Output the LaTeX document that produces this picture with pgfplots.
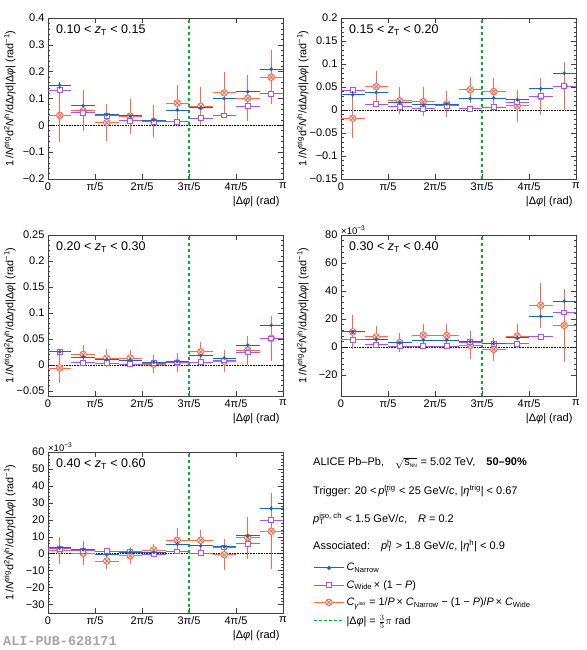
\documentclass[border=0pt]{standalone}
\usepackage{fontspec}
\setmainfont{Liberation Sans}
\setmonofont{Liberation Mono}
\usepackage{amsmath}
\usepackage{pgfplots}
\usepackage{pgfplotstable}
\pgfplotsset{compat=1.18}

\definecolor{cN}{RGB}{25,100,200}
\definecolor{cW}{RGB}{165,85,245}
\definecolor{cG}{RGB}{255,105,75}
\definecolor{cL}{RGB}{0,180,40}

\newcommand{\supsub}[2]{\setbox0\hbox{\textsuperscript{#1}}\setbox2\hbox{\textsubscript{#2}}\ifdim\wd0>\wd2 \rlap{\box2}\box0\else\rlap{\box0}\box2\fi\kern0.5pt}

\pgfplotstableread{
x ex yn en yw ew yg eg
0.15708 0.15708 0.149 0.013 0.131 0.004 0.037 0.099
0.47124 0.15708 0.073 0.005 0.047 0.003 0.054 0.076
0.78540 0.15708 0.039 0.004 0.035 0.003 0.010 0.068
1.09956 0.15708 0.035 0.004 0.017 0.003 0.034 0.065
1.41372 0.15708 0.020 0.004 0.014 0.003 0.015 0.060
1.72788 0.15708 0.057 0.004 0.014 0.003 0.083 0.067
2.04204 0.15708 0.065 0.005 0.027 0.003 0.071 0.070
2.35619 0.15708 0.100 0.005 0.037 0.003 0.121 0.077
2.67035 0.15708 0.125 0.006 0.072 0.004 0.101 0.085
2.98451 0.15708 0.209 0.007 0.117 0.005 0.179 0.100
}\tA
\pgfplotstableread{
x ex yn en yw ew yg eg
0.15708 0.15708 0.033 0.008 0.043 0.003 -0.018 0.043
0.47124 0.15708 0.038 0.003 0.013 0.002 0.051 0.033
0.78540 0.15708 0.017 0.003 0.007 0.002 0.020 0.029
1.09956 0.15708 0.011 0.003 0.003 0.002 0.018 0.031
1.41372 0.15708 0.013 0.003 0.009 0.002 0.013 0.029
1.72788 0.15708 0.025 0.003 0.003 0.002 0.044 0.028
2.04204 0.15708 0.026 0.003 0.0065 0.002 0.040 0.030
2.35619 0.15708 0.022 0.003 0.017 0.002 0.009 0.035
2.67035 0.15708 0.046 0.004 0.030 0.003 0.029 0.040
2.98451 0.15708 0.080 0.004 0.052 0.003 0.052 0.052
}\tB
\pgfplotstableread{
x ex yn en yw ew yg eg
0.15708 0.15708 0.025 0.003 0.025 0.002 -0.006 0.029
0.47124 0.15708 0.015 0.002 0.004 0.001 0.020 0.019
0.78540 0.15708 0.010 0.002 0.003 0.001 0.013 0.017
1.09956 0.15708 0.009 0.002 0.0013 0.001 0.013 0.016
1.41372 0.15708 0.005 0.002 0.003 0.001 0.0015 0.017
1.72788 0.15708 0.0065 0.002 0.0045 0.001 0.004 0.018
2.04204 0.15708 0.018 0.002 0.005 0.001 0.025 0.019
2.35619 0.15708 0.013 0.002 0.0085 0.001 0.007 0.021
2.67035 0.15708 0.038 0.003 0.024 0.002 0.028 0.028
2.98451 0.15708 0.076 0.003 0.051 0.002 0.051 0.043
}\tC
\pgfplotstableread{
x ex yn en yw ew yg eg
0.15708 0.15708 10.8 1.5 5.3 0.6 10.8 12
0.47124 0.15708 5.3 1.0 1.7 0.4 7.2 8
0.78540 0.15708 2.9 1.0 0.7 0.4 3.1 7
1.09956 0.15708 5.0 1.0 0.5 0.4 8.4 8.3
1.41372 0.15708 5.0 1.0 0.5 0.4 8.2 8
1.72788 0.15708 3.8 1.0 3.4 0.4 1.2 10
2.04204 0.15708 2.4 1.0 2.4 0.4 -1.7 8
2.35619 0.15708 6.5 1.0 2.4 0.4 7.7 8.5
2.67035 0.15708 22.0 1.2 7.2 0.5 29.8 16
2.98451 0.15708 32.6 1.5 24.7 0.8 15.4 26
}\tD
\pgfplotstableread{
x ex yn en yw ew yg eg
0.15708 0.15708 3.4 1.5 3.0 0.5 2.0 8
0.47124 0.15708 2.4 1.0 1.8 0.4 0.2 7
0.78540 0.15708 -0.6 1.0 1.6 0.4 -4.3 4.6
1.09956 0.15708 1.0 1.0 1.4 0.4 -1.2 5
1.41372 0.15708 0.8 0.8 -0.4 0.4 2.2 3.8
1.72788 0.15708 5.7 1.0 1.4 0.4 7.9 7
2.04204 0.15708 4.7 1.0 0.4 0.4 7.9 6
2.35619 0.15708 4.1 1.0 3.7 0.4 -0.6 9.2
2.67035 0.15708 10.5 1.2 5.9 0.5 9.5 12.4
2.98451 0.15708 26.6 1.5 19.9 0.8 13.2 22.5
}\tE

\pgfplotsset{
  ser/.style={only marks, forget plot,
    error bars/x dir=both, error bars/x explicit,
    error bars/y dir=both, error bars/y explicit,
    error bars/error mark=none,
    error bars/error bar style={line width=0.9pt}},
  panel/.style={scale only axis, width=235pt, height=161pt,
    xmin=0, xmax=3.14159,
    xtick={0,0.62832,1.25664,1.88496,2.51327,3.14159},
    xticklabels={0,π/5,2π/5,3π/5,4π/5,π},
    minor x tick num=3, minor y tick num=4,
    tick align=inside, major tick length=5pt, minor tick length=2.5pt,
    axis line style={black!75, line width=0.5pt},
    every tick/.style={black!75, line width=0.4pt},
    tick label style={font=\fontsize{11}{13}\selectfont},
    /pgf/number format/assume math mode=true,
    clip mode=individual,
    xlabel={|Δ\textit{φ}| (rad)},
    xlabel style={at={(axis description cs:1,0)}, anchor=north east, yshift=-14pt, font=\fontsize{11}{13}\selectfont},
    ylabel={1\,/\textit{N}\textsuperscript{trig}d\textsuperscript{2}\textit{N}\textsuperscript{h}/dΔ\textit{η}d|Δ\textit{φ}| (rad\textsuperscript{−1})},
    ylabel style={at={(axis description cs:-0.163,0.5)}, anchor=center, font=\fontsize{10.8}{12}\selectfont},
  },
  legend image code/.code={\draw[mark repeat=2,mark phase=2,#1] plot coordinates {(0pt,0pt) (15pt,0pt) (30pt,0pt)};},
}

\newcommand{\series}[1]{%
  \addplot[cG, mark=otimes*, mark size=3.3pt, mark options={fill=white,line width=0.9pt}, ser] table[x=x,y=yg,x error=ex,y error=eg]{#1};
  \addplot[cW, mark=square*, mark size=2.4pt, mark options={fill=white,line width=0.8pt}, ser] table[x=x,y=yw,x error=ex,y error=ew]{#1};
  \addplot[cN, mark=*, mark size=1.6pt, ser] table[x=x,y=yn,x error=ex,y error=en]{#1};
}
\newcommand{\guides}[2]{%
  \addplot[black, densely dotted, line width=0.6pt, forget plot] coordinates {(0,0) (3.14159,0)};
  \addplot[cL, dashed, line width=1.2pt, forget plot] coordinates {(1.88496,#1) (1.88496,#2)};
}
\newcommand{\ptag}[1]{\node[anchor=west, font=\fontsize{12.5}{14}\selectfont] at (rel axis cs:0.02,0.925) {#1};}
\newcommand{\mult}{\node[anchor=south west, inner sep=0pt, font=\fontsize{9.5}{10}\selectfont] at (rel axis cs:0,1.0) {×10\textsuperscript{−3}};}

\begin{document}
\begin{tikzpicture}
\useasboundingbox (0pt,0pt) rectangle (586pt,650pt);

% panel 1
\begin{axis}[panel, at={(48pt,471pt)}, anchor=south west,
  ymin=-0.2, ymax=0.4, ytick={-0.2,-0.1,0,0.1,0.2,0.3,0.4},
  yticklabels={−0.2,−0.1,0,0.1,0.2,0.3,0.4}]
\guides{-0.2}{0.4}
\series{\tA}
\ptag{0.10 < \textit{z}\textsubscript{T} < 0.15}
\end{axis}

% panel 2
\begin{axis}[panel, at={(341pt,471pt)}, anchor=south west,
  ymin=-0.15, ymax=0.2, ytick={-0.15,-0.1,-0.05,0,0.05,0.1,0.15,0.2},
  yticklabels={−0.15,−0.1,−0.05,0,0.05,0.1,0.15,0.2}]
\guides{-0.15}{0.2}
\series{\tB}
\ptag{0.15 < \textit{z}\textsubscript{T} < 0.20}
\end{axis}

% panel 3
\begin{axis}[panel, at={(48pt,254pt)}, anchor=south west,
  ymin=-0.06, ymax=0.25, ytick={-0.05,0,0.05,0.1,0.15,0.2,0.25},
  yticklabels={−0.05,0,0.05,0.1,0.15,0.2,0.25}]
\guides{-0.06}{0.25}
\series{\tC}
\ptag{0.20 < \textit{z}\textsubscript{T} < 0.30}
\end{axis}

% panel 4
\begin{axis}[panel, at={(341pt,254pt)}, anchor=south west,
  ymin=-35, ymax=80, ytick={-20,0,20,40,60,80},
  yticklabels={−20,0,20,40,60,80}]
\guides{-35}{80}
\series{\tD}
\ptag{0.30 < \textit{z}\textsubscript{T} < 0.40}
\mult
\end{axis}

% panel 5
\begin{axis}[panel, at={(48pt,37pt)}, anchor=south west,
  ymin=-35, ymax=60, ytick={-30,-20,-10,0,10,20,30,40,50,60},
  yticklabels={−30,−20,−10,0,10,20,30,40,50,60},
  legend style={at={(axis description cs:1.128,0.322)}, anchor=north west, draw=none, fill=none,
    font=\fontsize{10.8}{13}\selectfont, row sep=4pt, inner sep=0pt},
  legend cell align=left]
\guides{-35}{60}
\series{\tE}
\ptag{0.40 < \textit{z}\textsubscript{T} < 0.60}
\mult
\addlegendimage{cN, mark=*, mark size=1.6pt, line width=0.9pt}
\addlegendentry{\textit{C}\textsubscript{Narrow}}
\addlegendimage{cW, mark=square*, mark size=2.4pt, line width=0.9pt, mark options={fill=white,line width=0.8pt}}
\addlegendentry{\textit{C}\textsubscript{Wide}\,× (1 − \textit{P})}
\addlegendimage{cG, mark=otimes*, mark size=3.3pt, line width=0.9pt, mark options={fill=white,line width=0.9pt}}
\addlegendentry{\textit{C}\textsubscript{\textit{γ}\textsuperscript{iso}} = 1/\textit{P}\,× \textit{C}\textsubscript{Narrow} − (1 − \textit{P})/\textit{P}\,× \textit{C}\textsubscript{Wide}}
\addlegendimage{color=cL, line width=1.3pt, dash pattern=on 3pt off 2pt}
\addlegendentry{|Δ\textit{φ}| = $\frac{3}{5}\pi$ rad}
\end{axis}

\begin{scope}[every node/.style={anchor=west, inner sep=0pt, font=\fontsize{11}{13}\selectfont}]
\node at (313pt,187pt) {ALICE Pb–Pb,\quad $\sqrt{\mbox{s}_{\mbox{\tiny NN}}}$ = 5.02 TeV,\quad \textbf{50–90\%}};
\node at (313pt,159pt) {Trigger: 20 <\,\textit{p}\supsub{trig}{T}\ < 25 GeV/\textit{c}, |\textit{η}\textsuperscript{trig}| < 0.67};
\node at (313pt,131pt) {\textit{p}\supsub{iso, ch}{T}\ < 1.5 GeV/\textit{c},\quad \textit{R} = 0.2};
\node at (313pt,104pt) {Associated:\quad \textit{p}\supsub{h}{T}\ > 1.8 GeV/\textit{c}, |\textit{η}\textsuperscript{h}| < 0.9};
\end{scope}
\node[anchor=south west, inner sep=0pt, text=black!35, font=\ttfamily\bfseries\fontsize{13.5}{14}\selectfont] at (3pt,4pt) {ALI-PUB-628171};
\end{tikzpicture}
\end{document}
